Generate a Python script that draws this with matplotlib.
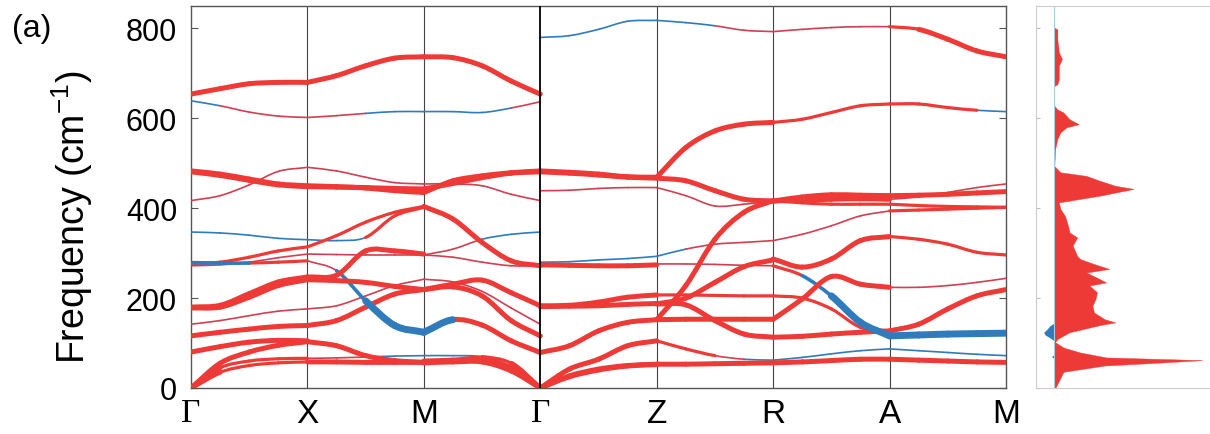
import matplotlib
matplotlib.use("Agg")
import matplotlib.pyplot as plt
from matplotlib.path import Path
from matplotlib.patches import PathPatch

plt.rcParams['font.family'] = ['Liberation Sans', 'DejaVu Sans']

# ---------------- data ----------------
kpoint_labels = ['Γ', 'X', 'M', 'Γ', 'Z', 'R', 'A', 'M']
quarter = [0.0, 0.25, 0.5, 0.75, 1.0]

# each segment: curves of frequencies (cm^-1) at 0, 1/4, 1/2, 3/4, 1 of the segment
seg_GX = [
    [654, 666, 677, 680, 680], [639, 628, 614, 605, 602],
    [483, 476, 465, 454, 450], [481, 473, 462, 452, 448],
    [417, 428, 452, 482, 491], [347, 345, 340, 333, 330],
    [276, 280, 291, 305, 314], [272, 274, 280, 290, 298],
    [279, 278, 278, 280, 283], [180, 184, 210, 236, 247],
    [178, 180, 202, 228, 241], [142, 150, 161, 171, 176],
    [116, 124, 131, 137, 139], [80, 92, 102, 106, 105],
    [0, 55, 80, 95, 103], [0, 45, 60, 65, 66], [0, 35, 50, 56, 58],
]
sty_GX = ['RRRR', 'bttt', 'RRRR', 'RRRR', 'tttt', 'bbbb', 'rrrr', 'tttt',
          'mmrr', 'RRRR', 'RRRR', 'tttt', 'RRRR', 'RRRR', 'RRRR', 'Rrrr', 'Rrrr']

seg_XM = [
    [680, 695, 717, 734, 737], [602, 606, 611, 615, 615],
    [450, 448, 445, 439, 435], [448, 447, 446, 444, 443],
    [491, 483, 469, 457, 454], [314, 339, 369, 391, 404],
    [330, 328, 335, 383, 402], [298, 297, 296, 296, 296],
    [283, 261, 194, 139, 124], [247, 251, 305, 305, 298],
    [241, 239, 235, 226, 219], [176, 183, 205, 228, 242],
    [139, 150, 180, 209, 219], [103, 94, 72, 61, 57],
    [66, 67, 69, 71, 72], [58, 58, 57, 57, 57],
]
sty_XM = ['RRRR', 'ttbb', 'RRRR', 'RRRR', 'tttt', 'rrrr', 'bbrr', 'tttt',
          'tmBB', 'RRRR', 'RRRR', 'tttt', 'RRRR', 'RRRR', 'ttbb', 'RRRR']

seg_MG = [
    [737, 735, 717, 683, 654], [615, 615, 613, 623, 637],
    [435, 461, 472, 479, 483], [443, 455, 468, 478, 481],
    [454, 454, 450, 431, 417], [404, 376, 324, 283, 272],
    [296, 309, 331, 342, 347], [296, 291, 280, 272, 272],
    [124, 152, 140, 105, 79], [219, 231, 240, 212, 183],
    [242, 236, 215, 178, 142], [219, 225, 205, 150, 116],
    [72, 72, 70, 55, 0], [60, 62, 65, 45, 0], [56, 58, 58, 38, 0],
]
sty_MG = ['RRRR', 'bbbt', 'RRRR', 'RRRR', 'tttt', 'RRRR', 'ttbb', 'tttt',
          'BRRR', 'RRRR', 'tttt', 'RRRR', 'bbrR', 'RRRR', 'RRRR']

seg_GZ = [
    [780, 784, 798, 816, 818], [483, 480, 476, 470, 469],
    [481, 478, 474, 469, 467], [439, 440, 444, 446, 446],
    [280, 281, 285, 288, 293], [274, 273, 272, 272, 274],
    [183, 184, 191, 202, 207], [181, 182, 183, 186, 188],
    [79, 94, 127, 146, 152], [0, 42, 64, 94, 105],
    [0, 27, 42, 50, 53], [0, 25, 40, 49, 52],
]
sty_GZ = ['bbbb', 'RRRR', 'RRRR', 'tttt', 'bbbb', 'RRRR', 'RRRR', 'RRRR',
          'RRRR', 'RRRR', 'RRRR', 'RRRR']

seg_ZR = [
    [818, 813, 806, 796, 793], [469, 535, 572, 587, 591],
    [467, 461, 439, 420, 416], [446, 428, 405, 409, 416],
    [293, 309, 320, 324, 328], [152, 228, 331, 391, 417],
    [187, 200, 235, 270, 285], [207, 207, 206, 205, 205],
    [276, 276, 275, 273, 272], [187, 185, 150, 120, 113],
    [152, 153, 153, 153, 153], [105, 87, 72, 64, 62],
    [53, 53, 54, 55, 56],
]
sty_ZR = ['bbtt', 'RRRR', 'RRRR', 'tttt', 'bttt', 'RRRR', 'RRRR', 'rrrr',
          'tttt', 'RRRR', 'RRRR', 'rrtb', 'RRRR']

seg_RA = [
    [793, 798, 802, 804, 804], [591, 598, 613, 628, 632],
    [416, 425, 430, 429, 428], [416, 418, 420, 421, 420],
    [417, 412, 409, 409, 409], [328, 342, 361, 383, 394],
    [287, 269, 287, 328, 337], [272, 250, 205, 146, 116],
    [205, 200, 176, 135, 127], [153, 198, 248, 231, 224],
    [113, 115, 120, 124, 127], [62, 68, 76, 83, 87],
    [56, 58, 61, 64, 64],
]
sty_RA = ['tttt', 'rrrr', 'RRRR', 'RRRR', 'rrrr', 'tttt', 'RRRR', 'rmBB',
          'rrrr', 'RRRR', 'RRRR', 'bbbb', 'RRRR']

seg_AM = [
    [804, 798, 776, 750, 737], [632, 632, 624, 618, 615],
    [428, 429, 431, 434, 437], [420, 425, 435, 446, 454],
    [409, 406, 404, 403, 402], [394, 396, 398, 400, 402],
    [337, 331, 320, 302, 296], [224, 224, 228, 235, 244],
    [127, 142, 176, 205, 219], [116, 118, 120, 121, 122],
    [87, 83, 79, 75, 72], [64, 62, 60, 58, 57],
]
sty_AM = ['rRRR', 'rrrb', 'RRRR', 'tttt', 'rrrr', 'rrrr', 'rrrr', 'tttt',
          'RRRR', 'BBBB', 'bbbb', 'RRRR']

# phonon DOS (red: total, blue: partial drawn to the left)
dos_freq = [0, 2, 36, 50, 57, 62, 68, 79, 90, 102, 109, 124, 140, 146, 153, 168,
            183, 198, 213, 228, 235, 242, 257, 265, 276, 287, 294, 317, 335, 346,
            361, 383, 398, 413, 428, 443, 450, 461, 472, 480, 494, 531, 554, 569,
            580, 587, 598, 613, 620, 628, 672, 676, 687, 717, 732, 747, 776, 798,
            802, 850]
dos_red = [0, 0.01, 0.06, 0.33, 0.72, 0.97, 0.34, 0.17, 0.06, 0.005, 0.02, 0.10,
           0.30, 0.40, 0.33, 0.26, 0.25, 0.27, 0.28, 0.23, 0.34, 0.30, 0.21, 0.36,
           0.26, 0.17, 0.15, 0.12, 0.15, 0.10, 0.09, 0.07, 0.04, 0.03, 0.30, 0.52,
           0.40, 0.30, 0.21, 0.04, 0, 0.005, 0.02, 0.04, 0.08, 0.16, 0.10, 0.06,
           0.02, 0, 0, 0.02, 0.03, 0.03, 0.05, 0.03, 0.02, 0.02, 0, 0]
dos_blue_freq = [66, 70, 74, 105, 112, 118, 124, 130, 138, 145]
dos_blue = [0, 0.02, 0, 0, 0.03, 0.06, 0.07, 0.05, 0.03, 0]

# ---------------- style ----------------
RED = '#ee3a36'
THIN_RED = '#d23e52'
BLUE = '#2f7bbb'
style_map = {
    'R': (RED, 3.6), 'r': (RED, 2.3), 't': (THIN_RED, 1.2),
    'B': (BLUE, 5.0), 'm': (BLUE, 2.6), 'b': (BLUE, 1.2),
}

W, H = 1210, 435
fig = plt.figure(figsize=(W / 100, H / 100), dpi=100)
ax = fig.add_axes([191 / W, 1 - 389 / H, (1006 - 191) / W, (389 - 7) / H])
ax2 = fig.add_axes([1036 / W, 1 - 389 / H, 180 / W, (389 - 7) / H])

segments = [seg_GX, seg_XM, seg_MG, seg_GZ, seg_ZR, seg_RA, seg_AM]
styles = [sty_GX, sty_XM, sty_MG, sty_GZ, sty_ZR, sty_RA, sty_AM]


def slopes(xs, ys):
    n = len(ys)
    m = []
    for j in range(n):
        if j == 0:
            m.append((ys[1] - ys[0]) / (xs[1] - xs[0]))
        elif j == n - 1:
            m.append((ys[-1] - ys[-2]) / (xs[-1] - xs[-2]))
        else:
            m.append((ys[j + 1] - ys[j - 1]) / (xs[j + 1] - xs[j - 1]))
    return m


pieces = []
for i, (seg, sty) in enumerate(zip(segments, styles)):
    xs = [i + q for q in quarter]
    for curve, code in zip(seg, sty):
        m = slopes(xs, curve)
        for j in range(4):
            c, lw = style_map[code[j]]
            dx = xs[j + 1] - xs[j]
            verts = [(xs[j], curve[j]),
                     (xs[j] + dx / 3, curve[j] + m[j] * dx / 3),
                     (xs[j + 1] - dx / 3, curve[j + 1] - m[j + 1] * dx / 3),
                     (xs[j + 1], curve[j + 1])]
            pieces.append((lw, c, verts))

pieces.sort(key=lambda p: p[0])
for lw, c, verts in pieces:
    path = Path(verts, [Path.MOVETO, Path.CURVE4, Path.CURVE4, Path.CURVE4])
    ax.add_patch(PathPatch(path, fill=False, edgecolor=c, lw=lw,
                           capstyle='round', joinstyle='round', zorder=3))

for k in range(1, 7):
    if k == 3:
        ax.axvline(k, color='black', lw=1.3, zorder=4)
    else:
        ax.axvline(k, color='#444444', lw=0.8, zorder=1)

ax.set_xlim(0, 7)
ax.set_ylim(0, 850)
ax.set_xticks(range(8))
ax.set_xticklabels(kpoint_labels)
for lbl in ax.get_xticklabels():
    if lbl.get_text() == 'Γ':
        lbl.set_fontfamily(['Liberation Serif', 'DejaVu Serif'])
ax.tick_params(axis='x', length=0, pad=7, labelsize=24)
ax.set_yticks([0, 200, 400, 600, 800])
ax.tick_params(axis='y', direction='in', length=5, width=0.8, color='#555555',
               right=True, labelsize=22, pad=10)
for s in ax.spines.values():
    s.set_color('#555555')
    s.set_linewidth(1.0)

fig.text(72 / W, 0.5, 'Frequency (cm$^{\\mathregular{-1}}$)', rotation=90,
         ha='center', va='center', fontsize=27)
fig.text(32 / W, 1 - 29 / H, '(a)', ha='center', va='center', fontsize=23)

# DOS panel
ax2.fill_betweenx(dos_freq, 0, dos_red, color=RED, lw=0.3, edgecolor=RED)
ax2.fill_betweenx(dos_blue_freq, 0, [-v for v in dos_blue], color=BLUE, lw=0)
ax2.axvline(0, color='#a9cbe0', lw=0.8)
ax2.set_xlim(-0.12, 1.06)
ax2.set_ylim(0, 850)
ax2.set_xticks([])
ax2.set_yticks([0, 200, 400, 600, 800])
ax2.set_yticklabels([])
ax2.tick_params(axis='y', direction='in', length=3, color='#bbbbbb')
for name, s in ax2.spines.items():
    s.set_color('#cccccc')
    s.set_linewidth(0.8)
ax2.spines['right'].set_visible(False)

fig.savefig('out.png', dpi=100)
